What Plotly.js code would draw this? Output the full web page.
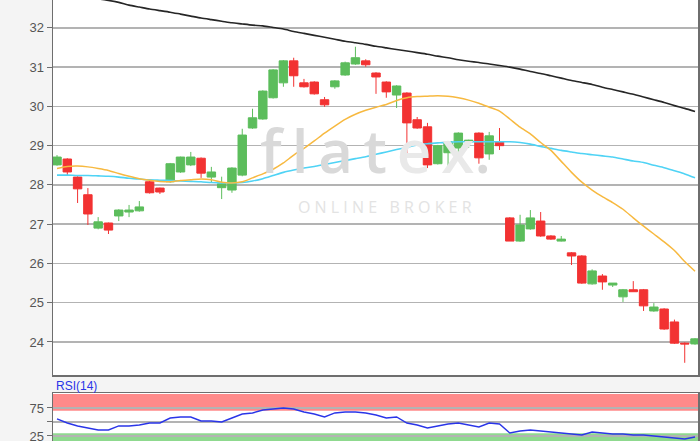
<!DOCTYPE html>
<html>
<head>
<meta charset="utf-8">
<script src="https://cdn.plot.ly/plotly-3.0.1.min.js"></script>
<style>
  html, body { margin: 0; padding: 0; background: #f4f4f4; }
  #chart { width: 700px; height: 441px; }
</style>
</head>
<body>
<div id="chart"></div>
<script>
// ---- Data (63 daily sessions) ----
const openP  = [28.51,28.66,28.20,27.75,26.90,27.03,27.21,27.31,27.34,28.08,27.92,28.08,28.33,28.51,28.68,28.20,27.93,27.87,28.25,29.45,
                29.68,30.22,30.60,31.16,30.60,30.62,30.17,30.50,30.80,31.08,31.16,30.85,30.62,30.29,30.34,29.66,29.48,28.54,28.82,28.94,
                29.10,29.32,28.79,29.10,27.16,26.57,26.88,27.08,26.70,26.57,26.27,26.19,25.48,25.68,25.45,25.15,25.33,25.33,24.79,24.84,
                24.51,23.97,23.95];
const highP  = [28.76,28.68,28.22,27.92,27.18,27.04,27.38,27.49,27.59,28.10,27.93,28.56,28.72,28.84,28.70,28.46,28.21,28.45,29.43,29.94,
                30.41,30.95,31.18,31.24,30.70,30.64,30.24,30.67,31.14,31.52,31.20,30.87,30.64,30.54,30.36,29.73,29.58,29.02,29.12,29.34,
                29.15,29.34,29.35,29.45,27.18,27.24,27.36,27.31,26.72,26.70,26.29,26.21,25.85,25.73,25.50,25.35,25.55,25.35,24.99,24.86,
                24.57,23.99,24.10];
const lowP   = [28.49,28.25,27.54,26.98,26.87,26.75,27.08,27.18,27.32,27.78,27.77,28.06,28.31,28.48,28.18,28.05,27.64,27.80,28.22,29.43,
                29.66,30.20,30.50,30.50,30.48,30.30,29.99,30.45,30.78,31.06,31.01,30.32,30.22,29.96,28.76,29.43,28.43,28.52,28.48,28.82,
                28.94,28.54,28.64,28.89,26.57,26.55,26.86,26.68,26.60,26.56,25.96,25.48,25.46,25.33,25.40,25.02,25.28,24.79,24.77,24.31,
                23.95,23.47,23.93];
const closeP = [28.71,28.33,27.90,27.26,27.06,26.85,27.36,27.36,27.44,27.80,27.82,28.54,28.71,28.71,28.30,28.33,28.03,28.43,29.27,29.71,
                30.39,30.93,31.16,30.78,30.50,30.32,30.04,30.65,31.11,31.24,31.06,30.75,30.37,30.52,29.58,29.45,28.51,29.00,29.10,29.32,
                29.14,28.69,29.25,29.00,26.57,26.98,27.16,26.70,26.62,26.62,26.19,25.50,25.81,25.53,25.50,25.33,25.28,24.92,24.89,24.33,
                23.97,23.95,24.08];
const maLong = [32.95,32.90,32.85,32.80,32.74,32.70,32.65,32.58,32.53,32.48,32.44,32.40,32.35,32.30,32.25,32.21,32.17,32.13,32.10,32.07,
                32.05,32.01,31.97,31.91,31.86,31.81,31.76,31.71,31.66,31.62,31.58,31.53,31.49,31.45,31.41,31.37,31.33,31.28,31.24,31.19,
                31.15,31.12,31.08,31.04,31.00,30.95,30.89,30.84,30.78,30.72,30.66,30.61,30.56,30.49,30.43,30.37,30.31,30.24,30.17,30.10,
                30.02,29.95,29.87];
const maMid  = [28.25,28.25,28.24,28.24,28.23,28.22,28.20,28.17,28.15,28.13,28.12,28.11,28.10,28.09,28.08,28.06,28.05,28.05,28.06,28.10,
                28.16,28.24,28.32,28.38,28.43,28.47,28.52,28.57,28.62,28.67,28.72,28.78,28.84,28.90,28.96,29.02,29.05,29.07,29.09,29.10,
                29.10,29.10,29.10,29.10,29.10,29.08,29.04,28.98,28.93,28.88,28.84,28.80,28.77,28.74,28.71,28.66,28.61,28.57,28.50,28.44,
                28.36,28.28,28.18];
const maShort= [28.42,28.47,28.48,28.46,28.42,28.37,28.29,28.22,28.16,28.12,28.09,28.08,28.11,28.13,28.15,28.13,28.07,28.05,28.08,28.18,
                28.28,28.40,28.56,28.76,28.93,29.12,29.32,29.50,29.67,29.80,29.90,29.98,30.05,30.15,30.22,30.25,30.26,30.27,30.26,30.22,
                30.16,30.08,29.98,29.88,29.68,29.47,29.30,29.08,28.88,28.60,28.32,28.07,27.87,27.70,27.55,27.38,27.16,26.95,26.75,26.55,
                26.33,26.05,25.80];
const rsi14  = [55.4,48.2,42.9,39.3,35.7,35.7,42.9,42.9,44.6,48.2,48.2,57.1,58.9,58.9,51.8,51.8,50.0,57.1,64.3,66.1,
                71.4,73.2,75.0,73.2,67.9,64.3,58.9,66.1,67.9,67.9,66.1,62.5,57.1,58.9,48.2,44.6,39.3,42.9,46.4,48.2,
                44.6,41.1,48.2,46.4,30.4,33.9,35.7,33.9,32.1,30.4,28.6,26.8,32.1,30.4,28.6,28.6,26.8,26.8,25.0,23.2,
                21.4,19.6,23.2];
const priceTicks = [24,25,26,27,28,29,30,31,32];
const rsiTicks = [25,50,75];
const rsiTickText = ['25','','75'];
const overbought = [70,100];
const oversold = [0,30];

const sessions = openP.map((_, i) => i);

const traces = [
  {
    type: 'candlestick', x: sessions, open: openP, high: highP, low: lowP, close: closeP,
    xaxis: 'x', yaxis: 'y',
    increasing: { line: { color: '#5cbd5c', width: 1 }, fillcolor: '#5cbd5c' },
    decreasing: { line: { color: '#f23232', width: 1 }, fillcolor: '#f23232' },
    whiskerwidth: 0, hoverinfo: 'skip', showlegend: false
  },
  { type: 'scatter', mode: 'lines', x: sessions, y: maLong, xaxis: 'x', yaxis: 'y',
    line: { color: '#262626', width: 1.6, shape: 'spline', smoothing: 0.6 }, hoverinfo: 'skip', showlegend: false },
  { type: 'scatter', mode: 'lines', x: sessions, y: maMid, xaxis: 'x', yaxis: 'y',
    line: { color: '#4fd3f5', width: 1.6, shape: 'spline', smoothing: 0.6 }, hoverinfo: 'skip', showlegend: false },
  { type: 'scatter', mode: 'lines', x: sessions, y: maShort, xaxis: 'x', yaxis: 'y',
    line: { color: '#f7b940', width: 1.5, shape: 'spline', smoothing: 0.6 }, hoverinfo: 'skip', showlegend: false },
  { type: 'scatter', mode: 'lines', x: sessions, y: rsi14, xaxis: 'x2', yaxis: 'y2',
    line: { color: '#2a35e8', width: 1.4 }, hoverinfo: 'skip', showlegend: false }
];

const axisLine = '#6e6e6e';
const tickFont = { family: 'Liberation Sans, Arial, sans-serif', size: 13, color: '#555555' };
const xDom = [53/700, 698/700];

const layout = {
  width: 700, height: 441,
  margin: { l: 0, r: 0, t: 0, b: 0 },
  paper_bgcolor: '#f4f4f4', plot_bgcolor: '#ffffff',
  showlegend: false,
  boxgap: 0.18, boxgroupgap: 0,
  xaxis: {
    domain: xDom, anchor: 'y', range: [-0.39, 62.29], showticklabels: false, showgrid: false,
    zeroline: false, showline: true, mirror: true, linecolor: axisLine, linewidth: 1.5,
    rangeslider: { visible: false }, ticks: ''
  },
  yaxis: {
    domain: [1 - 375/441, 1], anchor: 'x', range: [23.159, 32.71],
    tickvals: priceTicks, ticks: 'outside', ticklen: 5, tickcolor: axisLine, tickwidth: 1,
    gridcolor: '#b3b3b3', gridwidth: 1.5, zeroline: false, ticklabeloverflow: 'allow',
    showline: true, mirror: true, linecolor: axisLine, linewidth: 1.5, tickfont: tickFont
  },
  xaxis2: {
    domain: xDom, anchor: 'y2', range: [-0.39, 62.29], showticklabels: false, showgrid: false,
    zeroline: false, showline: true, mirror: true, linecolor: axisLine, linewidth: 1.5, ticks: ''
  },
  yaxis2: {
    domain: [0, 48/441], anchor: 'x2', range: [16.0, 101.8],
    tickvals: rsiTicks, ticktext: rsiTickText, ticks: 'outside', ticklen: 5, tickcolor: axisLine,
    gridcolor: '#b3b3b3', gridwidth: 1.5, zeroline: false, ticklabeloverflow: 'allow',
    showline: true, mirror: true, linecolor: axisLine, linewidth: 1.5, tickfont: tickFont
  },
  shapes: [
    { type: 'rect', xref: 'x2 domain', yref: 'y2', x0: 0, x1: 1, y0: overbought[0], y1: overbought[1],
      fillcolor: '#ff8a8a', line: { width: 0 }, layer: 'below' },
    { type: 'rect', xref: 'x2 domain', yref: 'y2', x0: 0, x1: 1, y0: oversold[0], y1: oversold[1],
      fillcolor: '#8fd98f', line: { width: 0 }, layer: 'below' }
  ],
  annotations: [
    { xref: 'paper', yref: 'paper', x: 54/700, y: 1 - 386/441, xanchor: 'left', yanchor: 'middle',
      text: 'RSI(14)', showarrow: false, font: { family: 'Liberation Sans, Arial, sans-serif', size: 12, color: '#2a35e8' } },
    { xref: 'paper', yref: 'paper', x: 375/700, y: 1 - 150/441, xanchor: 'center', yanchor: 'middle',
      text: '<span style="color:#d9d9d9">f\u2009l\u2009a\u2009t</span>\u2009<span style="color:#e9e9e9">e\u2009x</span><span style="color:#d9d9d9">.</span>',
      showarrow: false, font: { family: 'Open Sans, sans-serif', size: 60, weight: 600, color: '#d9d9d9' } },
    { xref: 'paper', yref: 'paper', x: 385/700, y: 1 - 207/441, xanchor: 'center', yanchor: 'middle',
      text: 'O N L I N E &nbsp; B R O K E R',
      showarrow: false, font: { family: 'Open Sans, sans-serif', size: 16, color: '#e3e3e3' } }
  ]
};

Plotly.newPlot('chart', traces, layout, { staticPlot: true, displayModeBar: false });
</script>
</body>
</html>
